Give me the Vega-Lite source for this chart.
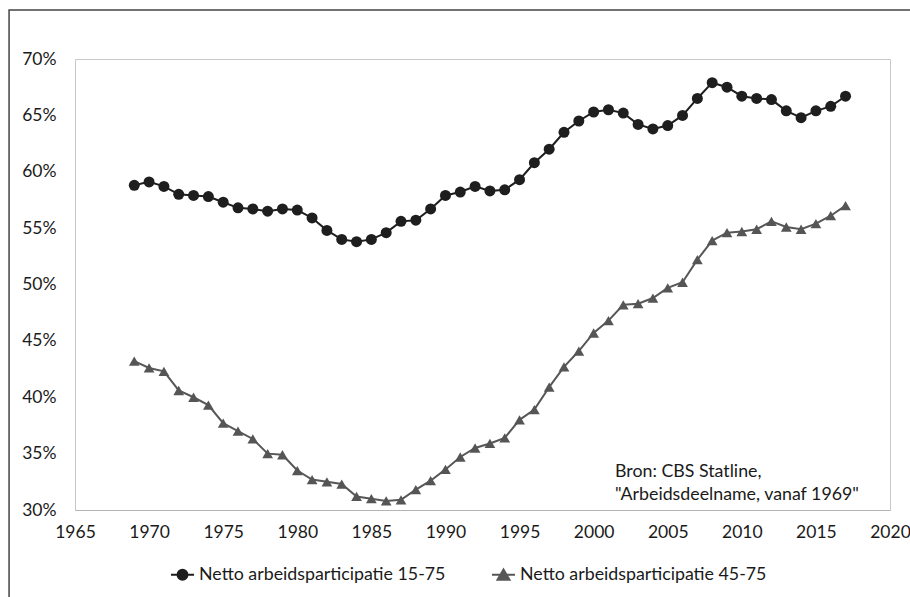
{
  "$schema": "https://vega.github.io/schema/vega-lite/v6.json",
  "width": 815,
  "height": 451,
  "autosize": "none",
  "padding": {"left": 75, "top": 59, "right": 20, "bottom": 87},
  "background": "white",
  "config": {
    "font": "Lato",
    "view": {"stroke": "#c8c8c8", "strokeWidth": 1},
    "axis": {"labelFont": "Lato", "labelFontSize": 17.5, "labelColor": "#1a1a1a", "gridColor": "#cccccc", "gridWidth": 1, "ticks": false, "tickSize": 0, "title": null, "labelFlush": false}
  },
  "layer": [
    {
      "data": {"values": [{}]},
      "mark": {"type": "rect", "fill": null, "stroke": "#444444", "strokeWidth": 1.5, "clip": false},
      "encoding": {
        "x": {"datum": 1960.55, "type": "quantitative"},
        "x2": {"datum": 2040},
        "y": {"datum": 74.34, "type": "quantitative"},
        "y2": {"datum": 0}
      }
    },
    {
      "data": {"name": "series"},
      "layer": [
        {
          "mark": {"type": "line", "strokeWidth": 2},
          "encoding": {
            "x": {"field": "year", "type": "quantitative", "scale": {"domain": [1965, 2020], "nice": false, "zero": false},
                  "axis": {"values": [1965,1970,1975,1980,1985,1990,1995,2000,2005,2010,2015,2020], "format": "d", "domainColor": "#b4b4b4", "labelPadding": 13}},
            "y": {"field": "v", "type": "quantitative", "scale": {"domain": [30, 70], "nice": false, "zero": false},
                  "axis": {"values": [30,35,40,45,50,55,60,65,70], "labelExpr": "datum.value + '%'", "domain": false, "labelPadding": 19}},
            "color": {"field": "s", "type": "nominal", "scale": {"domain": ["15-75", "45-75"], "range": ["#1e1e1e", "#575757"]},
              "legend": {
                "orient": "none", "legendX": 95, "legendY": 503, "direction": "horizontal", "title": null,
                "labelExpr": "'Netto arbeidsparticipatie ' + datum.label",
                "labelFont": "Lato", "labelFontSize": 17.8, "labelColor": "#1a1a1a", "labelOffset": 4, "columnPadding": 42, "labelLimit": 400,
                "symbolSize": 529, "symbolStrokeWidth": 2,
                "encode": {"symbols": {"update": {
                  "shape": {"signal": "datum.value === '15-75' ? 'M-1,0H1M0.43,0A0.43,0.43,0,1,1,-0.43,0A0.43,0.43,0,1,1,0.43,0Z' : 'M-1,0H1M0,-0.46L0.52,0.44L-0.52,0.44Z'"},
                  "size": {"value": 529},
                  "strokeWidth": {"value": 2},
                  "fill": {"signal": "datum.value === '15-75' ? '#1e1e1e' : '#575757'"},
                  "stroke": {"signal": "datum.value === '15-75' ? '#1e1e1e' : '#575757'"},
                  "opacity": {"value": 1}
                }}}
              }}
          }
        },
        {
          "transform": [{"filter": "datum.s === '15-75'"}],
          "mark": {"type": "point", "filled": true, "opacity": 1, "shape": "circle", "size": 121, "color": "#1e1e1e"},
          "encoding": {
            "x": {"field": "year", "type": "quantitative"},
            "y": {"field": "v", "type": "quantitative"}
          }
        },
        {
          "transform": [{"filter": "datum.s === '45-75'"}],
          "mark": {"type": "point", "filled": true, "opacity": 1, "shape": "triangle-up", "size": 115, "color": "#555555"},
          "encoding": {
            "x": {"field": "year", "type": "quantitative"},
            "y": {"field": "v", "type": "quantitative"}
          }
        }
      ]
    },
    {
      "data": {"values": [{}]},
      "mark": {"type": "text", "align": "left", "baseline": "alphabetic", "fontSize": 17.8, "font": "Lato", "color": "#1a1a1a", "lineHeight": 23,
               "text": ["Bron: CBS Statline,", "\"Arbeidsdeelname, vanaf 1969\""]},
      "encoding": {
        "x": {"datum": 2001.44, "type": "quantitative"},
        "y": {"datum": 32.94, "type": "quantitative"}
      }
    }
  ],
  "datasets": {"series": [
    {"year":1969,"s":"15-75","v":58.8},{"year":1970,"s":"15-75","v":59.1},{"year":1971,"s":"15-75","v":58.7},{"year":1972,"s":"15-75","v":58.0},{"year":1973,"s":"15-75","v":57.9},{"year":1974,"s":"15-75","v":57.8},{"year":1975,"s":"15-75","v":57.3},{"year":1976,"s":"15-75","v":56.8},{"year":1977,"s":"15-75","v":56.7},{"year":1978,"s":"15-75","v":56.5},{"year":1979,"s":"15-75","v":56.7},{"year":1980,"s":"15-75","v":56.6},{"year":1981,"s":"15-75","v":55.9},{"year":1982,"s":"15-75","v":54.8},{"year":1983,"s":"15-75","v":54.0},{"year":1984,"s":"15-75","v":53.8},{"year":1985,"s":"15-75","v":54.0},{"year":1986,"s":"15-75","v":54.6},{"year":1987,"s":"15-75","v":55.6},{"year":1988,"s":"15-75","v":55.7},{"year":1989,"s":"15-75","v":56.7},{"year":1990,"s":"15-75","v":57.9},{"year":1991,"s":"15-75","v":58.2},{"year":1992,"s":"15-75","v":58.7},{"year":1993,"s":"15-75","v":58.3},{"year":1994,"s":"15-75","v":58.4},{"year":1995,"s":"15-75","v":59.3},{"year":1996,"s":"15-75","v":60.8},{"year":1997,"s":"15-75","v":62.0},{"year":1998,"s":"15-75","v":63.5},{"year":1999,"s":"15-75","v":64.5},{"year":2000,"s":"15-75","v":65.3},{"year":2001,"s":"15-75","v":65.5},{"year":2002,"s":"15-75","v":65.2},{"year":2003,"s":"15-75","v":64.2},{"year":2004,"s":"15-75","v":63.8},{"year":2005,"s":"15-75","v":64.1},{"year":2006,"s":"15-75","v":65.0},{"year":2007,"s":"15-75","v":66.5},{"year":2008,"s":"15-75","v":67.9},{"year":2009,"s":"15-75","v":67.5},{"year":2010,"s":"15-75","v":66.7},{"year":2011,"s":"15-75","v":66.5},{"year":2012,"s":"15-75","v":66.4},{"year":2013,"s":"15-75","v":65.4},{"year":2014,"s":"15-75","v":64.8},{"year":2015,"s":"15-75","v":65.4},{"year":2016,"s":"15-75","v":65.8},{"year":2017,"s":"15-75","v":66.7},
    {"year":1969,"s":"45-75","v":43.2},{"year":1970,"s":"45-75","v":42.6},{"year":1971,"s":"45-75","v":42.3},{"year":1972,"s":"45-75","v":40.6},{"year":1973,"s":"45-75","v":40.0},{"year":1974,"s":"45-75","v":39.3},{"year":1975,"s":"45-75","v":37.7},{"year":1976,"s":"45-75","v":37.0},{"year":1977,"s":"45-75","v":36.3},{"year":1978,"s":"45-75","v":35.0},{"year":1979,"s":"45-75","v":34.9},{"year":1980,"s":"45-75","v":33.5},{"year":1981,"s":"45-75","v":32.7},{"year":1982,"s":"45-75","v":32.5},{"year":1983,"s":"45-75","v":32.3},{"year":1984,"s":"45-75","v":31.2},{"year":1985,"s":"45-75","v":31.0},{"year":1986,"s":"45-75","v":30.8},{"year":1987,"s":"45-75","v":30.9},{"year":1988,"s":"45-75","v":31.8},{"year":1989,"s":"45-75","v":32.6},{"year":1990,"s":"45-75","v":33.6},{"year":1991,"s":"45-75","v":34.7},{"year":1992,"s":"45-75","v":35.5},{"year":1993,"s":"45-75","v":35.9},{"year":1994,"s":"45-75","v":36.4},{"year":1995,"s":"45-75","v":38.0},{"year":1996,"s":"45-75","v":38.9},{"year":1997,"s":"45-75","v":40.9},{"year":1998,"s":"45-75","v":42.7},{"year":1999,"s":"45-75","v":44.1},{"year":2000,"s":"45-75","v":45.7},{"year":2001,"s":"45-75","v":46.8},{"year":2002,"s":"45-75","v":48.2},{"year":2003,"s":"45-75","v":48.3},{"year":2004,"s":"45-75","v":48.8},{"year":2005,"s":"45-75","v":49.7},{"year":2006,"s":"45-75","v":50.2},{"year":2007,"s":"45-75","v":52.2},{"year":2008,"s":"45-75","v":53.9},{"year":2009,"s":"45-75","v":54.6},{"year":2010,"s":"45-75","v":54.7},{"year":2011,"s":"45-75","v":54.9},{"year":2012,"s":"45-75","v":55.6},{"year":2013,"s":"45-75","v":55.1},{"year":2014,"s":"45-75","v":54.9},{"year":2015,"s":"45-75","v":55.4},{"year":2016,"s":"45-75","v":56.1},{"year":2017,"s":"45-75","v":57.0}
  ]}
}
